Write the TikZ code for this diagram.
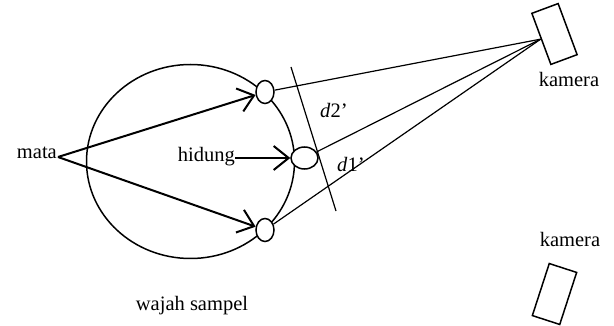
\documentclass[tikz,border=0pt]{standalone}
\usepackage{fontspec}
\setmainfont{Liberation Serif}
\usetikzlibrary{shapes.geometric,arrows.meta}
\begin{document}
\begin{tikzpicture}[x=1pt,y=-1pt,
  lbl/.style={inner sep=0pt, font=\fontsize{20.5}{24}\selectfont},
  organ/.style={draw, ellipse, line width=1.5pt, inner sep=0pt},
  arr/.style={line width=2pt, -{Straight Barb[length=15pt,width=24pt]}},
  thin/.style={line width=1.2pt},
  cambox/.style={draw, rectangle, line width=1.5pt, inner sep=0pt}]
\useasboundingbox (0,0) rectangle (614,326);
% face
\node[draw, ellipse, line width=1.5pt, minimum width=208pt, minimum height=194pt, inner sep=0pt] (face) at (190.5,161.5) {};
% eyes and nose
\node[organ, fill=white, minimum width=18pt, minimum height=23pt] (ueye) at (265,92) {};
\node[organ, fill=white, minimum width=18pt, minimum height=23pt] (leye) at (265,230) {};
\node[organ, fill=white, minimum width=27pt, minimum height=22pt] (nose) at (304.5,158) {};
% cameras
\node[cambox, minimum width=28pt, minimum height=54.5pt, rotate=20.4] (cam1) at (554.5,34) {};
\node[cambox, minimum width=28.8pt, minimum height=54.7pt, rotate=-18] (cam2) at (554.5,294) {};
% labels
\node[lbl, anchor=base east] (mata) at (57,159) {mata};
\coordinate (mt) at (58,157);
\node[lbl, anchor=base east] (hidung) at (235,162) {hidung};
\node[lbl, anchor=base] (kam1) at (569,87) {kamera};
\node[lbl, anchor=base] (kam2) at (570,247) {kamera};
\node[lbl, anchor=base] (wajah) at (192,310) {wajah sampel};
\node[lbl, anchor=base west] (d2) at (320,118) {\textit{d}2’};
\node[lbl, anchor=base west] (d1) at (337,172) {\textit{d}1’};
% plane line
\coordinate (pt) at (291,67);
\coordinate (pb) at (336,211);
\draw[thin] (pt) -- (pb);
% lines to camera
\draw[thin] (ueye) -- (cam1.west);
\draw[thin] (nose) -- (cam1.west);
\draw[thin] (leye) -- (cam1.west);
% arrows
\draw[arr] (mt) -- (ueye);
\draw[arr] (mt) -- (leye);
\draw[arr] (hidung.east |- nose.west) -- (nose.west);
\end{tikzpicture}
\end{document}
